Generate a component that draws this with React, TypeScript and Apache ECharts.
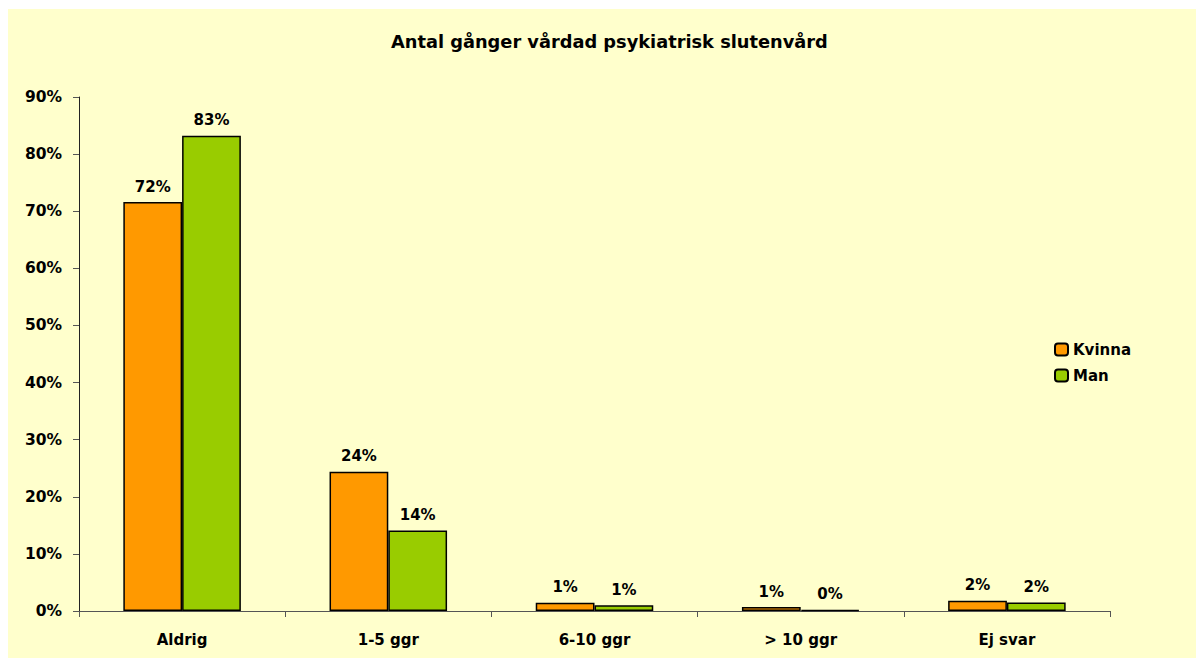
import React, { useEffect, useRef } from "react";
import * as echarts from "echarts";

const categories = ["Aldrig", "1-5 ggr", "6-10 ggr", "> 10 ggr", "Ej svar"];
const kvinna = [71.6, 24.4, 1.45, 0.7, 1.8];
const man = [83.2, 14.1, 1.0, 0.2, 1.5];
const seriesNames = ["Kvinna", "Man"];

const FONT = "'DejaVu Sans', Arial, sans-serif";

export default function App() {
  const ref = useRef<HTMLDivElement>(null);
  useEffect(() => {
    if (!ref.current) return;
    const chart = echarts.init(ref.current, null, { renderer: "svg" });
    const label = {
      show: true,
      position: "top" as const,
      distance: 8,
      fontFamily: FONT,
      fontWeight: "bold" as const,
      fontSize: 15,
      color: "#000",
      formatter: (p: any) => Math.round(p.value) + "%",
    };
    chart.setOption({
      animation: false,
      backgroundColor: "#FFFFCC",
      title: {
        text: "Antal gånger vårdad psykiatrisk slutenvård",
        left: 378,
        top: 18,
        textStyle: { fontFamily: FONT, fontWeight: "bold", fontSize: 17.8, color: "#000" },
      },
      legend: {
        orient: "vertical",
        left: 1041,
        top: 328,
        itemWidth: 13,
        itemHeight: 12,
        itemGap: 11,
        data: seriesNames,
        textStyle: { fontFamily: FONT, fontWeight: "bold", fontSize: 15, color: "#000" },
      },
      grid: { left: 71, right: 86, top: 88, bottom: 47, containLabel: false },
      xAxis: {
        type: "category",
        data: categories,
        axisLine: { lineStyle: { color: "#555", width: 1 } },
        axisTick: { show: true, length: 6, lineStyle: { color: "#555" } },
        axisLabel: { margin: 21, fontFamily: FONT, fontWeight: "bold", fontSize: 15, color: "#000" },
      },
      yAxis: {
        type: "value",
        min: 0,
        max: 90,
        interval: 10,
        splitLine: { show: false },
        axisLine: { show: true, lineStyle: { color: "#222", width: 1 } },
        axisTick: { show: true, length: 6, lineStyle: { color: "#555" } },
        axisLabel: {
          margin: 17,
          formatter: "{value}%",
          fontFamily: FONT,
          fontWeight: "bold",
          fontSize: 15.5,
          color: "#000",
        },
      },
      series: [
        {
          name: seriesNames[0],
          type: "bar",
          data: kvinna,
          barGap: "0%",
          barCategoryGap: "43%",
          itemStyle: { color: "#FF9900", borderColor: "#000", borderWidth: 1.5 },
          label,
        },
        {
          name: seriesNames[1],
          type: "bar",
          data: man,
          barGap: "0%",
          barCategoryGap: "43%",
          itemStyle: { color: "#99CC00", borderColor: "#000", borderWidth: 1.5 },
          label,
        },
      ],
    });
    return () => chart.dispose();
  }, []);
  return (
    <div
      ref={ref}
      style={{ position: "absolute", left: 8, top: 9, width: 1188, height: 649 }}
    />
  );
}
